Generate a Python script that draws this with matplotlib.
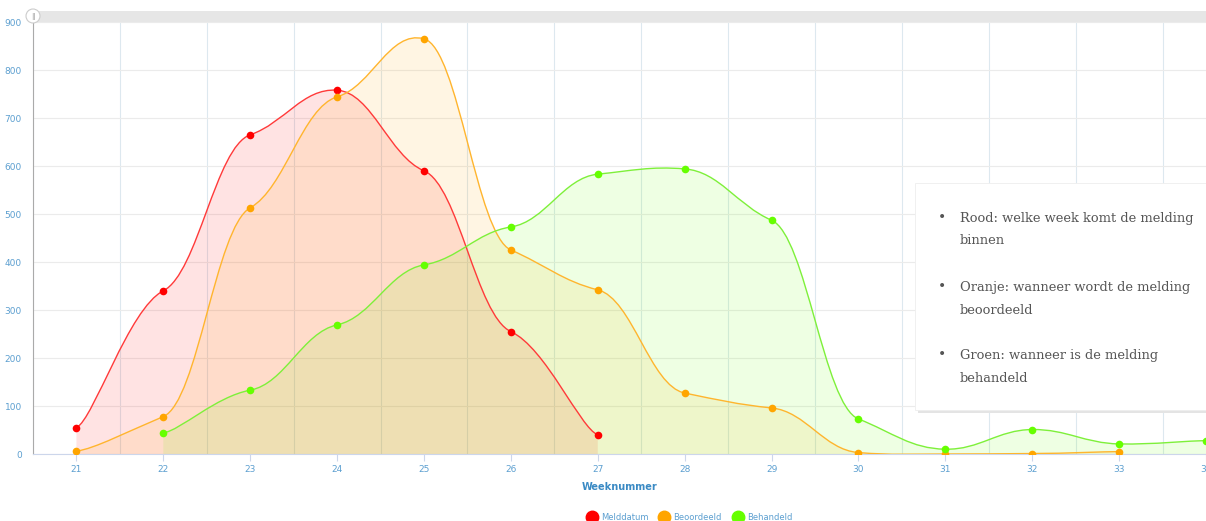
import matplotlib

matplotlib.use("Agg")
import matplotlib.pyplot as plt
from matplotlib.lines import Line2D
from matplotlib.patches import Circle, PathPatch, Rectangle
from matplotlib.path import Path

# week numbers and counts per series
weeks_meld = [21, 22, 23, 24, 25, 26, 27]
meld = [55, 340, 665, 758, 590, 255, 40]
weeks_beoord = [21, 22, 23, 24, 25, 26, 27, 28, 29, 30, 31, 32, 33]
beoord = [6, 78, 513, 744, 865, 425, 342, 127, 96, 3, 0, 1, 5]
weeks_behand = [22, 23, 24, 25, 26, 27, 28, 29, 30, 31, 32, 33, 34]
behand = [44, 133, 269, 394, 473, 583, 594, 487, 73, 10, 51, 21, 28]

series_names = ["Melddatum", "Beoordeeld", "Behandeld"]
series_colors = ["#ff0000", "#ffa500", "#66ff00"]
line_colors = ["#ff3a3a", "#ffb52e", "#7ef03a"]

notes = [
    ("Rood: welke week komt de melding", "binnen"),
    ("Oranje: wanneer wordt de melding", "beoordeeld"),
    ("Groen: wanneer is de melding", "behandeld"),
]

TICK_BLUE = "#5c9fd0"


def smoothed_path(xs, ys, tension_x=0.8, tension_y=0.94):
    """Tension-smoothed bezier path (almost flat tangents at the data points)."""
    tx = 1 - tension_x + 1e-5
    ty = 1 - tension_y + 1e-5
    n = len(xs)
    verts = [(xs[0], ys[0])]
    codes = [Path.MOVETO]
    for i in range(n - 1):
        i0 = max(i - 1, 0)
        i3 = min(i + 2, n - 1)
        ax_ = xs[i] + tx * (xs[i + 1] - xs[i0])
        ay_ = ys[i] + ty * (ys[i + 1] - ys[i0])
        bx_ = xs[i + 1] - tx * (xs[i3] - xs[i])
        by_ = ys[i + 1] - ty * (ys[i3] - ys[i])
        verts += [(ax_, ay_), (bx_, by_), (xs[i + 1], ys[i + 1])]
        codes += [Path.CURVE4] * 3
    return verts, codes


fig = plt.figure(figsize=(12.06, 5.21), dpi=100)
ax = fig.add_axes([33 / 1206, 67 / 521, 1 - 33 / 1206, 432 / 521])

data = [(weeks_meld, meld), (weeks_beoord, beoord), (weeks_behand, behand)]
for (wx, wy), col, lcol in zip(data, series_colors, line_colors):
    verts, codes = smoothed_path(wx, wy)
    ax.add_patch(PathPatch(Path(verts, codes), fill=False, edgecolor=lcol, lw=1.0, zorder=3))
    fverts = verts + [(wx[-1], 0), (wx[0], 0), (wx[0], wy[0])]
    fcodes = codes + [Path.LINETO, Path.LINETO, Path.CLOSEPOLY]
    ax.add_patch(PathPatch(Path(fverts, fcodes), facecolor=col, alpha=0.11, edgecolor="none", zorder=2))
    ax.plot(wx, wy, "o", color=col, ms=5.5, mec="none", zorder=4, clip_on=True)

ax.set_xlim(20.5, 33.98)
ax.set_ylim(0, 900)
ax.set_xticks(range(21, 35))
ax.set_xticks([w + 0.5 for w in range(20, 34)], minor=True)
ax.set_yticks(range(0, 901, 100))
ax.grid(True, which="minor", axis="x", color="#dde8ef", lw=0.8)
ax.grid(True, which="major", axis="y", color="#ebebeb", lw=0.8)
ax.set_axisbelow(True)
ax.tick_params(axis="x", which="major", colors="#ccd6eb", labelcolor=TICK_BLUE,
               labelsize=6.5, length=5, pad=3)
ax.tick_params(axis="x", which="minor", length=0)
ax.tick_params(axis="y", length=0, labelcolor=TICK_BLUE, labelsize=6.5, pad=8)
for s in ["top", "right"]:
    ax.spines[s].set_visible(False)
ax.spines["left"].set_color("#aaaaaa")
ax.spines["left"].set_linewidth(0.8)
ax.spines["bottom"].set_color("#ccd6eb")
ax.set_xlabel("Weeknummer", color="#3a8ac4", fontsize=7, fontweight="bold", labelpad=6)

# scrollbar strip on top
fig.patches.append(Rectangle((33 / 1206, 499 / 521), 1, 11 / 521, transform=fig.transFigure,
                             facecolor="#e6e6e6", edgecolor="none"))
fig.patches.append(Circle((33, 505), 7, transform=None, facecolor="white",
                          edgecolor="#cccccc", lw=0.8))
fig.text(33 / 1206, 505 / 521, "||", ha="center", va="center", fontsize=5, color="#999999")

# explanation box
box_l, box_b, box_w, box_h = 915, 111, 300, 227
fig.patches.append(Rectangle((box_l + 3, box_b - 3), box_w, box_h, transform=None,
                             facecolor="#e4e4e4", edgecolor="none", zorder=5))
fig.patches.append(Rectangle((box_l, box_b), box_w, box_h, transform=None,
                             facecolor="white", edgecolor="#eeeeee", lw=0.6, zorder=6))
line_y = [218, 287, 355]
for y, (l1, l2) in zip(line_y, notes):
    fig.text(942 / 1206, 1 - y / 521, "\u2022", ha="center", va="center", fontsize=10,
             color="#555555", family="DejaVu Serif", zorder=7)
    fig.text(960 / 1206, 1 - y / 521, l1, ha="left", va="center", fontsize=9.4,
             color="#555555", family="DejaVu Serif", zorder=7)
    fig.text(960 / 1206, 1 - (y + 23) / 521, l2, ha="left", va="center", fontsize=9.4,
             color="#555555", family="DejaVu Serif", zorder=7)

handles = [Line2D([], [], marker="o", ls="none", color=c, ms=9) for c in series_colors]
fig.legend(handles, series_names, loc="center", bbox_to_anchor=(688 / 1206, 1 - 517 / 521),
           ncol=3, frameon=False, fontsize=6, labelcolor=TICK_BLUE, handletextpad=0.1,
           columnspacing=0.9)

fig.savefig("out.png", dpi=100)
